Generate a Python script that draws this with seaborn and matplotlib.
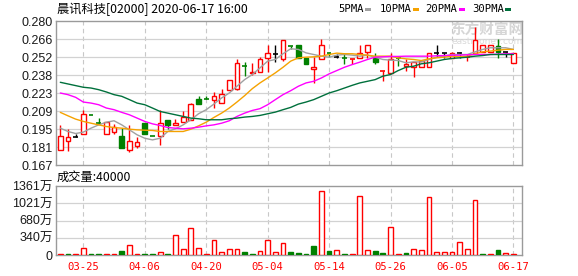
import numpy as np
import pandas as pd
import matplotlib
matplotlib.use("Agg")
import matplotlib.pyplot as plt
from matplotlib.patches import Rectangle
import seaborn as sns

# ---------------- data ----------------
dates = ["03-20", "03-23", "03-24", "03-25", "03-26", "03-27", "03-30", "03-31", "04-01", "04-02",
         "04-03", "04-06", "04-07", "04-08", "04-09", "04-14", "04-15", "04-16", "04-17", "04-20",
         "04-21", "04-22", "04-23", "04-24", "04-27", "04-28", "04-29", "05-04", "05-05", "05-06",
         "05-07", "05-08", "05-11", "05-12", "05-13", "05-14", "05-15", "05-18", "05-19", "05-20",
         "05-21", "05-22", "05-25", "05-26", "05-27", "05-28", "05-29", "06-01", "06-02", "06-03",
         "06-04", "06-05", "06-08", "06-09", "06-10", "06-11", "06-12", "06-15", "06-16", "06-17"]

open_ = [.179, .186, .189, .191, .206, .200, .191, .193, .190, .179,
         .182, .200, .190, .190, .202, .198, .201, .202, .219, .219,
         .218, .216, .226, .227, .245, .239, .240, .251, .254, .250,
         .260, .261, .251, .242, .250, .255, .252, .251, .250, .251,
         .256, .251, .241, .239, .251, .245, .244, .244, .244, .255,
         .255, .251, .255, .252, .255, .256, .256, .260, .256, .247]
high = [.198, .195, .191, .210, .206, .204, .201, .199, .196, .198,
        .189, .200, .190, .210, .202, .203, .209, .216, .221, .221,
        .224, .227, .234, .250, .248, .247, .252, .261, .261, .265,
        .260, .261, .251, .252, .266, .255, .254, .255, .250, .261,
        .261, .255, .241, .255, .251, .250, .248, .249, .255, .261,
        .255, .256, .256, .254, .275, .261, .261, .266, .256, .255]
low = [.179, .178, .189, .191, .206, .199, .191, .191, .180, .177,
       .180, .191, .190, .183, .195, .198, .201, .202, .215, .219,
       .212, .216, .226, .226, .237, .238, .240, .240, .248, .249,
       .258, .251, .246, .231, .250, .252, .251, .246, .246, .251,
       .251, .246, .233, .239, .245, .241, .236, .244, .244, .252,
       .251, .251, .251, .249, .255, .256, .256, .251, .252, .247]
close = [.190, .189, .189, .207, .206, .200, .201, .197, .180, .186,
         .185, .191, .190, .200, .198, .200, .205, .215, .215, .219,
         .221, .223, .234, .247, .245, .240, .250, .255, .254, .265,
         .260, .251, .246, .244, .261, .255, .252, .251, .250, .255,
         .261, .248, .241, .250, .251, .246, .248, .249, .255, .255,
         .255, .255, .255, .252, .265, .261, .261, .256, .256, .255]
# candle direction: U = up (red), D = down (green), F = flat (black)
direction = "UUFUDDUUDU" "UDDUDUUUDD" "UUUUDUUUFU" "DDDUUDFDUU" "UDUUDUUUUF" "FUFUUUUDFU"

ma5 = [.1959, .1933, .1917, .1928, .1959, .1985, .2006, .2017, .1985, .1946,
       .1907, .1880, .1867, .1880, .1933, .1954, .1985, .2025, .2072, .2104,
       .2148, .2196, .2235, .2288, .2340, .2380, .2432, .2485, .2498, .2543,
       .2582, .2577, .2550, .2537, .2524, .2516, .2532, .2537, .2532, .2524,
       .2532, .2516, .2498, .2493, .2490, .2472, .2479, .2479, .2498, .2516,
       .2524, .2537, .2537, .2537, .2558, .2577, .2590, .2590, .2590, .2577]
ma10 = [.2083, .2056, .2030, .2012, .1998, .1985, .1972, .1964, .1959, .1951,
        .1946, .1943, .1941, .1933, .1933, .1933, .1933, .1951, .1977, .2006,
        .2043, .2077, .2117, .2164, .2214, .2269, .2314, .2353, .2393, .2437,
        .2485, .2511, .2516, .2519, .2524, .2537, .2548, .2543, .2543, .2537,
        .2532, .2524, .2524, .2524, .2511, .2503, .2498, .2490, .2503, .2511,
        .2516, .2524, .2519, .2524, .2543, .2558, .2564, .2571, .2577, .2577]
ma20 = [.2235, .2222, .2201, .2164, .2156, .2143, .2117, .2104, .2083, .2064,
        .2038, .2012, .1993, .1980, .1964, .1959, .1954, .1959, .1967, .1977,
        .1985, .1998, .2017, .2051, .2077, .2098, .2112, .2143, .2183, .2222,
        .2253, .2288, .2314, .2327, .2353, .2385, .2411, .2437, .2458, .2477,
        .2498, .2516, .2519, .2522, .2522, .2524, .2524, .2524, .2524, .2527,
        .2529, .2532, .2532, .2535, .2537, .2537, .2537, .2540, .2543, .2543]
ma30 = [.2319, .2306, .2293, .2280, .2274, .2261, .2243, .2222, .2209, .2183,
        .2156, .2143, .2117, .2090, .2077, .2064, .2051, .2038, .2033, .2025,
        .2025, .2025, .2033, .2038, .2046, .2051, .2059, .2072, .2085, .2104,
        .2122, .2148, .2164, .2183, .2209, .2235, .2253, .2274, .2295, .2314,
        .2327, .2340, .2367, .2380, .2411, .2437, .2445, .2464, .2472, .2485,
        .2498, .2506, .2511, .2516, .2524, .2529, .2537, .2537, .2537, .2537]

# volume in 万 shares, with day direction used for the bar colour
volume = [20, 20, 20, 131, 20, 20, 20, 20, 79, 190,
          20, 20, 20, 53, 20, 388, 112, 526, 131, 20,
          289, 59, 112, 112, 59, 20, 79, 289, 53, 230,
          59, 39, 20, 177, 1261, 79, 99, 20, 20, 1163,
          99, 79, 39, 545, 20, 39, 118, 99, 1137, 59,
          59, 59, 256, 118, 1077, 20, 20, 99, 39, 20]
vol_dir = "UDUUDDUUDU" "UDDUDUUUUU" "UUUUDDUUUU" "DDDDUDUDUU" "UDDUUDUUUU" "UUUUUDUDUU"

price_ticks = [0.167, 0.181125, 0.19525, 0.209375, 0.2235, 0.237625, 0.25175, 0.265875, 0.280]
price_labels = ["0.167", "0.181", "0.195", "0.209", "0.223", "0.238", "0.252", "0.266", "0.280"]
vol_ticks = [0, 340, 680, 1021, 1361]
vol_labels = ["0", "340万", "680万", "1021万", "1361万"]
title = "晨讯科技[02000] 2020-06-17 16:00"
vol_title = "成交量:40000"
legend_names = ["5PMA", "10PMA", "20PMA", "30PMA"]

# ---------------- style ----------------
sns.set_theme(style="white")
plt.rcParams["font.family"] = ["Liberation Sans", "Noto Sans CJK SC", "DejaVu Sans"]

W, H = 578, 276
fig = plt.figure(figsize=(W / 100, H / 100), dpi=100)
fig.patch.set_facecolor("white")

def fx(px):
    return px / W

def fy(py):
    return 1 - py / H

L, R = 55.5, 522.0
ax = fig.add_axes([fx(L), fy(165), (R - L) / W, (165 - 21) / H])
axv = fig.add_axes([fx(L), fy(255), (R - L) / W, (255 - 186) / H])

UP, DN, FLAT = "#ff0000", "#008000", "#000000"
col_of = {"U": UP, "D": DN, "F": FLAT}
GRID = "#d2d2d2"
SPINE = "#9a9a9a"

n = len(dates)
x = np.arange(n)
df = pd.DataFrame({"x": x, "open": open_, "high": high, "low": low, "close": close,
                   "ma5": ma5, "ma10": ma10, "ma20": ma20, "ma30": ma30,
                   "vol": volume, "dir": list(direction), "vdir": list(vol_dir)})

xlim = (-0.625, 60.12)
tick_idx = list(range(3, n, 8))

for a in (ax, axv):
    a.set_xlim(*xlim)
    a.set_facecolor("white")
    for s in a.spines.values():
        s.set_color(SPINE)
        s.set_linewidth(1.0)
    a.set_xticks(tick_idx)
    for t in tick_idx:
        a.axvline(t, color="#c8c8c8", lw=0.8, ls=(0, (4, 3)), zorder=0)
    a.tick_params(length=0)

# price grid
ax.set_ylim(0.167, 0.280)
ax.set_yticks(price_ticks)
ax.set_yticklabels(price_labels, fontsize=9, color="#1a1a1a")
for v in price_ticks[1:-1]:
    ax.axhline(v, color=GRID, lw=0.9, zorder=0)
ax.set_xticklabels([])
ax.tick_params(axis="y", pad=2)

# watermark (inside the price panel, under the marks)
ax.text(fx(487), fy(30), "东方财富网", ha="center", va="center", fontsize=10.5, weight="bold",
        family=["Noto Sans CJK SC"], color="#d6d6d6", zorder=1, transform=fig.transFigure)
ax.text(fx(487), fy(41.5), "eastmoney.com", ha="center", va="center", fontsize=6.5,
        family=["DejaVu Sans"], color="#d9d9d9", zorder=1, transform=fig.transFigure)

# candles
cols = [col_of[d] for d in df["dir"]]
bw = 0.62
ax.vlines(df["x"], df["low"], df["high"], colors=cols, lw=1.0, zorder=3)
for xi, o, c, d in zip(df["x"], df["open"], df["close"], df["dir"]):
    lo, hi = min(o, c), max(o, c)
    col = col_of[d]
    if hi - lo < 1e-9:
        ax.hlines(o, xi - bw / 2, xi + bw / 2, colors=col, lw=1.2, zorder=4)
    elif d == "U":
        ax.bar(xi, hi - lo, bottom=lo, width=bw, facecolor="white", edgecolor=col, lw=1.0, zorder=4)
    else:
        ax.bar(xi, hi - lo, bottom=lo, width=bw, facecolor=col, edgecolor=col, lw=1.0, zorder=4)

# moving averages
ma_cols = ["#a0a0a0", "#f5a200", "#ff00ff", "#00703c"]
for name, colr in zip(["ma5", "ma10", "ma20", "ma30"], ma_cols):
    sns.lineplot(data=df, x="x", y=name, ax=ax, color=colr, lw=1.0, legend=False, zorder=5)
ax.set_xlabel("")
ax.set_ylabel("")

# volume
axv.set_ylim(0, 1361)
axv.set_yticks(vol_ticks)
axv.set_yticklabels(vol_labels, fontsize=9, color="#1a1a1a")
for v in vol_ticks[1:-1]:
    axv.axhline(v, color=GRID, lw=0.9, zorder=0)
for xi, v, d in zip(df["x"], df["vol"], df["vdir"]):
    if d == "U":
        axv.bar(xi, v, width=bw, facecolor="white", edgecolor=UP, lw=1.0, zorder=3)
    else:
        axv.bar(xi, v, width=bw, facecolor=DN, edgecolor=DN, lw=1.0, zorder=3)
axv.set_xticklabels([dates[i] for i in tick_idx], color="#ff0000", fontsize=7.6,
                    family=["DejaVu Sans Mono"])
axv.tick_params(axis="x", pad=5)
axv.tick_params(axis="y", pad=2)
axv.set_xlabel("")
axv.set_ylabel("")

# texts
fig.text(fx(57), fy(9), title, ha="left", va="center", fontsize=8.8,
         family=["Noto Sans CJK SC", "DejaVu Sans"], color="#000000")
fig.text(fx(57), fy(177.5), vol_title, ha="left", va="center", fontsize=8.8,
         family=["Noto Sans CJK SC", "DejaVu Sans"], color="#000000")

leg_text_x = [338, 380, 425, 472]
leg_box_x = [365, 413, 459, 505]
for name, tx, bx, colr in zip(legend_names, leg_text_x, leg_box_x, ma_cols):
    fig.text(fx(tx), fy(9), name, ha="left", va="center", fontsize=7.6,
             family=["DejaVu Sans Mono"], color="#000000")
    fig.patches.append(Rectangle((fx(bx), fy(11)), 6 / W, 3.5 / H, transform=fig.transFigure,
                                 facecolor=colr, edgecolor="none"))

fig.savefig("out.png", dpi=100, facecolor="white")
